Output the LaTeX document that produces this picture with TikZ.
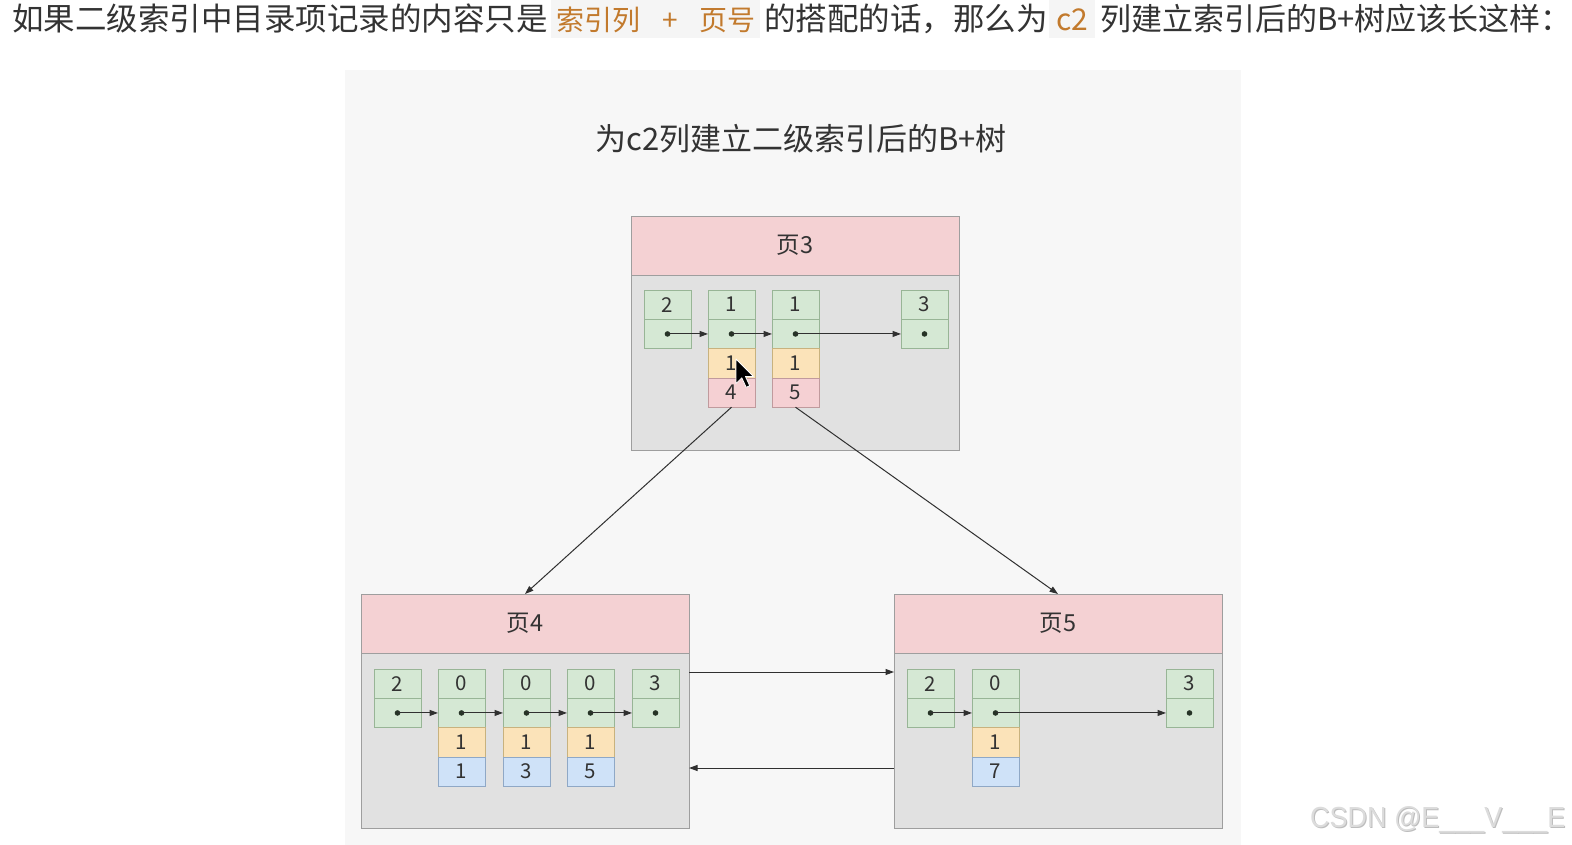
\documentclass[tikz,border=0pt]{standalone}
\usepackage{fontspec}
\setmainfont{Noto Sans CJK SC}
\newfontfamily\wmfont{Liberation Sans}
\usetikzlibrary{arrows.meta,calc}
\definecolor{textc}{HTML}{333333}
\definecolor{orangec}{HTML}{C27A2D}
\definecolor{panelc}{HTML}{F7F7F7}
\definecolor{hlc}{HTML}{F5F5F5}
\definecolor{hdrfill}{HTML}{F4D1D3}
\definecolor{framec}{HTML}{9E9E9E}
\definecolor{bodyfill}{HTML}{E1E1E1}
\definecolor{gfill}{HTML}{D5E8D4}
\definecolor{gline}{HTML}{98B596}
\definecolor{yfill}{HTML}{FBE3B9}
\definecolor{yline}{HTML}{C8B27E}
\definecolor{pfill}{HTML}{F5D0D3}
\definecolor{pline}{HTML}{C09A9D}
\definecolor{bfill}{HTML}{CFE2F8}
\definecolor{bline}{HTML}{8FA8C6}
\definecolor{dotcol}{HTML}{263326}
\definecolor{arrc}{HTML}{303030}
\definecolor{wmc}{HTML}{DCDCDC}
\definecolor{wmsh}{HTML}{BDBDBD}
\newcommand{\rectwo}[4]{%
  \node[rcell,gc,anchor=north west] (#1a) at (#2,#3) {#4};
  \node[rcell,gc,anchor=north] (#1b) at (#1a.south) {};
  \fill[dotcol] (#1b.center) circle (2.8pt);}
\newcommand{\recfour}[7]{%
  \node[rcell,gc,anchor=north west] (#1a) at (#2,#3) {#4};
  \node[rcell,gc,anchor=north] (#1b) at (#1a.south) {};
  \node[rcell,yc,anchor=north] (#1c) at (#1b.south) {#5};
  \node[rcell,#7,anchor=north] (#1d) at (#1c.south) {#6};
  \fill[dotcol] (#1b.center) circle (2.8pt);}
\begin{document}
\begin{tikzpicture}[x=1pt,y=-1pt,
  rcell/.style={minimum width=47pt,minimum height=29.3pt,inner sep=0pt,outer sep=0pt,line width=0.7pt,text=textc,font=\fontsize{20.5}{20.5}\selectfont},
  gc/.style={fill=gfill,draw=gline},
  yc/.style={fill=yfill,draw=yline},
  pc/.style={fill=pfill,draw=pline},
  bc/.style={fill=bfill,draw=bline},
  hdr/.style={fill=hdrfill,draw=framec,line width=0.8pt,minimum width=328pt,minimum height=59pt,inner sep=0pt,outer sep=0pt,anchor=north west,text=textc,font=\fontsize{23.5}{23.5}\selectfont},
  pbody/.style={fill=bodyfill,draw=framec,line width=0.8pt,minimum width=328pt,minimum height=175pt,inner sep=0pt,outer sep=0pt,anchor=north west},
  arr/.style={draw=arrc,line width=1pt,-{Triangle[length=8.5pt,width=6pt]}},
  toptxt/.style={inner sep=0pt,anchor=base west,text=textc,font=\fontsize{31.5}{31.5}\selectfont},
  hltxt/.style={inner sep=0pt,text=orangec,font=\fontsize{28}{28}\selectfont}
]
\useasboundingbox (0,0) rectangle (1572,845);
\fill[white] (0,0) rectangle (1572,845);
% top line
\fill[hlc] (551,0) rectangle (760,38);
\fill[hlc] (1049,0) rectangle (1095,38);
\node[toptxt] (t1) at (12,31) {如果二级索引中目录项记录的内容只是};
\node[hltxt,anchor=base west] (t2) at (556,31) {索引列};
\node[hltxt,anchor=base] (t3) at (670,31) {+};
\node[hltxt,anchor=base west] (t4) at (699,31) {页号};
\node[toptxt] (t5) at (764,31) {的搭配的话，那么为};
\node[hltxt,anchor=base west,font=\fontsize{30}{30}\selectfont] (t6) at (1056,31) {c2};
\node[toptxt,font=\fontsize{31}{31}\selectfont] (t7) at (1100,31) {列建立索引后的B+树应该长这样：};
% panel
\fill[panelc] (345,70) rectangle (1241,845);
\node[anchor=base,inner sep=0pt,text=textc,font=\fontsize{31}{31}\selectfont] (title) at (801,151) {为c2列建立二级索引后的B+树};
% page 3
\node[pbody] (p3b) at (631,275) {};
\node[hdr] (p3h) at (631,216) {页3};
\rectwo{p3r1}{644}{290}{2}
\recfour{p3r2}{708}{290}{1}{1}{4}{pc}
\recfour{p3r3}{772}{290}{1}{1}{5}{pc}
\rectwo{p3r4}{901}{290}{3}
\draw[arr] (p3r1b.center) -- (p3r2b.west);
\draw[arr] (p3r2b.center) -- (p3r3b.west);
\draw[arr] (p3r3b.center) -- (p3r4b.west);
% page 4
\node[pbody] (p4b) at (361,653) {};
\node[hdr] (p4h) at (361,594) {页4};
\rectwo{p4r1}{374}{669}{2}
\recfour{p4r2}{438}{669}{0}{1}{1}{bc}
\recfour{p4r3}{503}{669}{0}{1}{3}{bc}
\recfour{p4r4}{567}{669}{0}{1}{5}{bc}
\rectwo{p4r5}{632}{669}{3}
\draw[arr] (p4r1b.center) -- (p4r2b.west);
\draw[arr] (p4r2b.center) -- (p4r3b.west);
\draw[arr] (p4r3b.center) -- (p4r4b.west);
\draw[arr] (p4r4b.center) -- (p4r5b.west);
% page 5
\node[pbody] (p5b) at (894,653) {};
\node[hdr] (p5h) at (894,594) {页5};
\rectwo{p5r1}{907}{669}{2}
\recfour{p5r2}{972}{669}{0}{1}{7}{bc}
\rectwo{p5r3}{1166}{669}{3}
\draw[arr] (p5r1b.center) -- (p5r2b.west);
\draw[arr] (p5r2b.center) -- (p5r3b.west);
% tree links
\draw[arr] (p3r2d.south) -- (p4h.north);
\draw[arr] (p3r3d.south) -- (p5h.north);
% sibling links
\coordinate (lk1) at (0,672);
\coordinate (lk2) at (0,768);
\draw[arr] (p4b.east |- lk1) -- (p5b.west |- lk1);
\draw[arr] (p5b.west |- lk2) -- (p4b.east |- lk2);
% mouse cursor
\begin{scope}[shift={(736,359)},scale=1.45]
\filldraw[fill=black,draw=white,line width=0.8pt,line join=round] (0,0) -- (0,17) -- (4,13) -- (7,19.5) -- (9.5,18.5) -- (6.5,12) -- (12,12) -- cycle;
\end{scope}
% watermark
\node[anchor=base west,inner sep=0pt,text=wmsh,font=\wmfont\fontsize{29}{29}\selectfont] (wms) at (1311,828) {\scalebox{0.93}[1]{CSDN @E\_\_\_V\_\_\_E}};
\node[anchor=base west,inner sep=0pt,text=wmc,font=\wmfont\fontsize{29}{29}\selectfont] (wm) at (1310,827) {\scalebox{0.93}[1]{CSDN @E\_\_\_V\_\_\_E}};
\end{tikzpicture}
\end{document}
